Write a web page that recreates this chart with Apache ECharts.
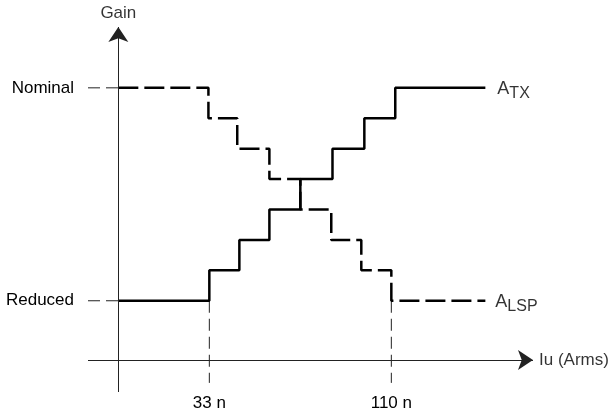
<!DOCTYPE html>
<html><head><meta charset="utf-8">
<script src="https://cdn.jsdelivr.net/npm/echarts@6/dist/echarts.min.js"></script>
<style>html,body{margin:0;padding:0;background:#fff}#c{width:613px;height:413px}</style>
</head><body><div id="c"></div>
<script>
// x unit: one current step (0 = 33 n, 6 = 110 n); y unit: one gain step (0 = Reduced, 7 = Nominal)
const atxX = [-3, 0, 0.99, 1.98, 3.0, 4.06, 5.11, 6.13, 9.1];
const atxY = [0, 1, 2, 3, 4, 5, 6, 7, 7];
const alspX = [-3, -0.03, 0.92, 1.98, 3.0, 4.02, 5.01, 6.0, 9.1];
const alspY = [7, 6, 5, 4, 3, 2, 1, 0, 0];
const yTickLabels = {0: 'Reduced', 7: 'Nominal'};
const xTickLabels = {0: '33 n', 6: '110 n'};
const leaders = [
  [[-4, 7], [-3, 7]],
  [[-4, 0], [-3, 0]],
  [[0, 0], [0, -2.7]],
  [[6, 0], [6, -2.7]]
];
const xAxisLine = [[-4, -1.95], [10.67, -1.95]];
const yAxisLine = [[-3, -3], [-3, 9]];
const FONT = 'Liberation Sans, Arial, Helvetica, sans-serif';

const zip = (xs, ys) => xs.map((x, i) => [x, ys[i]]);

const chart = echarts.init(document.getElementById('c'));
const series = [];
leaders.forEach(seg => series.push({
  type: 'line', data: seg, symbol: 'none', silent: true,
  lineStyle: {color: '#222', width: 1, type: [12, 6]}
}));
series.push({
  name: 'ATX', type: 'line', step: 'end', data: zip(atxX, atxY), symbol: 'none',
  lineStyle: {color: '#000', width: 2.5, type: 'solid'}
});
series.push({
  name: 'ALSP', type: 'line', step: 'end', data: zip(alspX, alspY), symbol: 'none',
  lineStyle: {color: '#000', width: 2.5, type: [20, 6]}
});
series.push({
  type: 'scatter', symbolSize: 0, silent: true,
  data: [
    {value: yAxisLine[1], label: {show: true, position: 'top', distance: 5, formatter: 'Gain'}},
    {value: xAxisLine[1], label: {show: true, position: 'right', distance: 6, formatter: 'Iu (Arms)'}},
    {value: [atxX[atxX.length - 1], atxY[atxY.length - 1]], label: {show: true, position: 'right', distance: 12, offset: [0, 6], formatter: '{a|A}{s|TX}'}},
    {value: [alspX[alspX.length - 1], alspY[alspY.length - 1]], label: {show: true, position: 'right', distance: 10, offset: [0, 6], formatter: '{a|A}{s|LSP}'}}
  ],
  label: {
    color: '#000', fontSize: 17, fontFamily: FONT,
    rich: {
      a: {fontSize: 18, lineHeight: 20, verticalAlign: 'top', fontFamily: FONT, color: '#000'},
      s: {fontSize: 16, lineHeight: 28, fontFamily: FONT, color: '#000'}
    }
  },
  markLine: {
    silent: true, symbol: ['none', 'arrow'], symbolSize: 15,
    label: {show: false},
    lineStyle: {color: '#222', width: 1, type: 'solid'},
    emphasis: {disabled: true},
    data: [
      [{coord: xAxisLine[0]}, {coord: xAxisLine[1]}],
      [{coord: yAxisLine[0]}, {coord: yAxisLine[1]}]
    ]
  }
});

chart.setOption({
  animation: false,
  backgroundColor: '#fff',
  grid: {left: 88, right: 70, top: 27, bottom: 21, containLabel: false},
  xAxis: {
    type: 'value', min: -4, max: 11, interval: 1,
    axisLine: {show: false}, axisTick: {show: false}, splitLine: {show: false},
    axisLabel: {
      margin: 3, fontSize: 17, fontFamily: FONT, color: '#000',
      formatter: v => xTickLabels[v] || ''
    }
  },
  yAxis: {
    type: 'value', min: -3, max: 9, interval: 1,
    axisLine: {show: false}, axisTick: {show: false}, splitLine: {show: false},
    axisLabel: {
      margin: 14, fontSize: 17, fontFamily: FONT, color: '#000',
      formatter: v => yTickLabels[v] || ''
    }
  },
  series: series
});
</script>
</body></html>
